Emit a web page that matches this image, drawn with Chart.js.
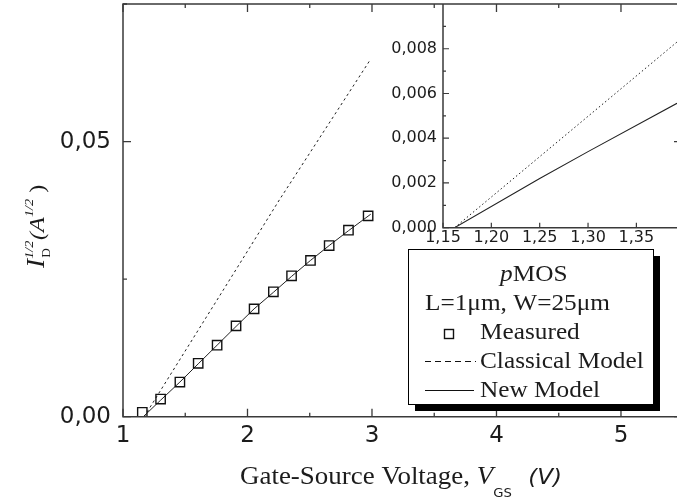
<!DOCTYPE html>
<html>
<head>
<meta charset="utf-8">
<script src="https://cdn.jsdelivr.net/npm/chart.js@4.4.1/dist/chart.umd.min.js"></script>
<style>
  html, body { margin: 0; padding: 0; background: #fff; overflow: hidden; }
  #wrap { position: relative; width: 677px; height: 500px; }
  #wrap canvas { position: absolute; left: 0; top: 0; }
</style>
</head>
<body>
<div id="wrap">
  <canvas id="mainChart" width="677" height="500"></canvas>
  <canvas id="insetChart" width="677" height="500"></canvas>
</div>
<script>
// measured points, main plot
var xMeasured = [1.155, 1.302, 1.457, 1.604, 1.756, 1.908, 2.053, 2.208, 2.354, 2.506, 2.656, 2.811, 2.969];
var yMeasured = [0.0008, 0.0032, 0.0063, 0.0097, 0.0130, 0.0165, 0.0196, 0.0227, 0.0256, 0.0284, 0.0311, 0.0339, 0.0365];

// model curves, main plot
var xNew = [1.163, 1.302, 1.457, 1.604, 1.756, 1.908, 2.053, 2.208, 2.354, 2.506, 2.656, 2.811, 2.99];
var yNew = [0, 0.0030, 0.0063, 0.0096, 0.0130, 0.0164, 0.0196, 0.0226, 0.0255, 0.0284, 0.0311, 0.0338, 0.0368];
var xClassical = [1.17, 1.86, 2.256, 2.99];
var yClassical = [0, 0.025, 0.0394, 0.065];

// inset curves
var xInsetNew = [1.162, 1.25, 1.30, 1.392];
var yInsetNew = [0, 0.0022, 0.0034, 0.00556];
var xInsetClassical = [1.162, 1.392];
var yInsetClassical = [0, 0.0083];

// ticks
var mainXTicks = [1, 2, 3, 4, 5];
var mainXMinor = [1.5, 2.5, 3.5, 4.5];
var mainYTicks = [0, 0.05];
var mainYMinor = [0.025, 0.075];
var insetXTicks = [1.15, 1.20, 1.25, 1.30, 1.35];
var insetYTicks = [0, 0.002, 0.004, 0.006, 0.008];
var insetYMinor = [0.001, 0.003, 0.005, 0.007, 0.009];

var legendTitle = 'MOS';
var legendSize = 'L=1\u03bcm, W=25\u03bcm';
var seriesNames = ['Measured', 'Classical Model', 'New Model'];

function pts(xs, ys) {
  return xs.map(function (x, i) { return { x: x, y: ys[i] }; });
}

var INK = '#1c1c1c';
var SX = 1.1; // the original text is a bit stretched sideways

// draw runs of text, each {t, f, dy}
function drawRuns(ctx, x, y, runs, angle) {
  ctx.save();
  ctx.translate(x, y);
  if (angle) ctx.rotate(angle);
  ctx.scale(SX, 1);
  ctx.textBaseline = 'alphabetic';
  ctx.textAlign = 'left';
  var cx = 0;
  runs.forEach(function (r) {
    ctx.font = r.f;
    ctx.fillText(r.t, cx + (r.dx || 0), r.dy || 0);
    if (!r.noAdvance) cx += ctx.measureText(r.t).width + (r.dx || 0);
  });
  ctx.restore();
}

var mainDecor = {
  id: 'mainDecor',
  afterDatasetsDraw: function (chart) {
    var ctx = chart.ctx, a = chart.chartArea;
    var x = chart.scales.x, y = chart.scales.y;
    ctx.save();
    ctx.strokeStyle = '#3a3a3a';
    ctx.lineWidth = 1.5;
    ctx.beginPath();
    ctx.moveTo(a.right, a.top); ctx.lineTo(a.left, a.top);
    ctx.lineTo(a.left, a.bottom); ctx.lineTo(a.right, a.bottom);
    ctx.stroke();
    ctx.lineWidth = 1.3;
    ctx.beginPath();
    mainXTicks.forEach(function (v) {
      var px = x.getPixelForValue(v);
      ctx.moveTo(px, a.bottom); ctx.lineTo(px, a.bottom - 8);
      ctx.moveTo(px, a.top); ctx.lineTo(px, a.top + 8);
    });
    mainXMinor.forEach(function (v) {
      var px = x.getPixelForValue(v);
      ctx.moveTo(px, a.bottom); ctx.lineTo(px, a.bottom - 4);
      ctx.moveTo(px, a.top); ctx.lineTo(px, a.top + 4);
    });
    mainYTicks.forEach(function (v) {
      var py = y.getPixelForValue(v);
      ctx.moveTo(a.left, py); ctx.lineTo(a.left + 8, py);
      ctx.moveTo(a.right, py); ctx.lineTo(a.right - 3, py);
    });
    mainYMinor.forEach(function (v) {
      var py = y.getPixelForValue(v);
      ctx.moveTo(a.left, py); ctx.lineTo(a.left + 4, py);
    });
    ctx.stroke();

    ctx.fillStyle = INK;
    // x title
    drawRuns(ctx, 240, 484, [
      { t: 'Gate-Source Voltage, ', f: '24.5px "Liberation Serif"' },
      { t: 'V', f: 'italic 24.5px "Liberation Serif"' },
      { t: 'GS', f: '12px "DejaVu Sans"', dy: 13, dx: 0 },
      { t: '(V)', f: 'italic 21px "DejaVu Sans"', dx: 15 }
    ]);
    // y title, rotated
    drawRuns(ctx, 44, 268, [
      { t: 'I', f: 'italic 25px "Liberation Serif"' },
      { t: '1/2', f: 'italic 13px "Liberation Serif"', dy: -11, noAdvance: true },
      { t: 'D', f: '12px "Liberation Serif"', dy: 6, dx: 1 },
      { t: ' (A', f: 'italic 22px "Liberation Serif"', dx: 2 },
      { t: '1/2', f: 'italic 13px "Liberation Serif"', dy: -11 },
      { t: ' )', f: '22px "Liberation Serif"' }
    ], -Math.PI / 2);

    // legend box with shadow
    ctx.fillStyle = '#000';
    ctx.fillRect(415, 256, 245, 155);
    ctx.fillStyle = '#fff';
    ctx.fillRect(408, 249, 245, 155);
    ctx.strokeStyle = '#000';
    ctx.lineWidth = 1;
    ctx.strokeRect(408.5, 249.5, 245, 155);

    ctx.fillStyle = INK;
    drawRuns(ctx, 500, 281, [
      { t: 'p', f: 'italic 23px "Liberation Serif"' },
      { t: legendTitle, f: '23px "Liberation Serif"' }
    ]);
    drawRuns(ctx, 425, 310, [{ t: legendSize, f: '23px "Liberation Serif"' }]);
    drawRuns(ctx, 480, 339, [{ t: seriesNames[0], f: '23px "Liberation Serif"' }]);
    drawRuns(ctx, 480, 368, [{ t: seriesNames[1], f: '23px "Liberation Serif"' }]);
    drawRuns(ctx, 480, 397, [{ t: seriesNames[2], f: '23px "Liberation Serif"' }]);

    ctx.strokeStyle = '#111';
    ctx.lineWidth = 1.4;
    ctx.strokeRect(444.5, 329.5, 9, 9);
    ctx.lineWidth = 1;
    ctx.setLineDash([6, 4]);
    ctx.beginPath(); ctx.moveTo(425, 361.5); ctx.lineTo(476, 361.5); ctx.stroke();
    ctx.setLineDash([]);
    ctx.beginPath(); ctx.moveTo(425, 390.5); ctx.lineTo(474, 390.5); ctx.stroke();
    ctx.restore();
  }
};

var insetDecor = {
  id: 'insetDecor',
  afterDatasetsDraw: function (chart) {
    var ctx = chart.ctx, a = chart.chartArea;
    var x = chart.scales.x, y = chart.scales.y;
    ctx.save();
    ctx.strokeStyle = '#3a3a3a';
    ctx.lineWidth = 1.5;
    ctx.beginPath();
    ctx.moveTo(a.left, a.top); ctx.lineTo(a.left, a.bottom); ctx.lineTo(a.right, a.bottom);
    ctx.stroke();
    ctx.lineWidth = 1.2;
    ctx.beginPath();
    insetYTicks.forEach(function (v) {
      var py = y.getPixelForValue(v);
      ctx.moveTo(a.left, py); ctx.lineTo(a.left + 6, py);
    });
    insetYMinor.forEach(function (v) {
      var py = y.getPixelForValue(v);
      ctx.moveTo(a.left, py); ctx.lineTo(a.left + 3, py);
    });
    insetXTicks.forEach(function (v) {
      var px = x.getPixelForValue(v);
      ctx.moveTo(px, a.bottom); ctx.lineTo(px, a.bottom - 5);
    });
    ctx.stroke();
    ctx.restore();
  }
};

function fixedTicks(list) {
  return function (scale) {
    scale.ticks = list.map(function (v) { return { value: v }; });
  };
}
// fixed axis sizes, and no extra room for edge labels
function fitX(h) {
  return function (s) { s.height = h; s.paddingLeft = 0; s.paddingRight = 0; };
}
function fitY(w) {
  return function (s) { s.width = w; s.paddingTop = 0; s.paddingBottom = 0; };
}

new Chart(document.getElementById('mainChart'), {
  type: 'scatter',
  data: {
    datasets: [
      {
        label: seriesNames[0],
        data: pts(xMeasured, yMeasured),
        pointStyle: 'rect',
        pointRadius: 6.6,
        borderColor: '#111',
        borderWidth: 1.4,
        backgroundColor: 'rgba(0,0,0,0)',
        showLine: false
      },
      {
        label: seriesNames[1],
        data: pts(xClassical, yClassical),
        showLine: true,
        pointRadius: 0,
        borderColor: '#222',
        borderWidth: 1,
        borderDash: [2.5, 3]
      },
      {
        label: seriesNames[2],
        data: pts(xNew, yNew),
        showLine: true,
        pointRadius: 0,
        borderColor: '#222',
        borderWidth: 1
      }
    ]
  },
  options: {
    responsive: false,
    animation: false,
    events: [],
    layout: { autoPadding: false, padding: { left: 0, right: 0, top: 4, bottom: 0 } },
    plugins: { legend: { display: false }, tooltip: { enabled: false } },
    scales: {
      x: {
        type: 'linear', min: 1, max: 5.45,
        afterBuildTicks: fixedTicks(mainXTicks),
        afterFit: fitX(83.3),
        grid: { display: false, drawTicks: false },
        border: { display: false },
        ticks: {
          autoSkip: false, maxRotation: 0, padding: 6, color: INK,
          font: { family: '"DejaVu Sans"', size: 23 },
          callback: function (v) { return String(v); }
        }
      },
      y: {
        type: 'linear', min: 0, max: 0.075,
        afterBuildTicks: fixedTicks(mainYTicks),
        afterFit: fitY(123),
        grid: { display: false, drawTicks: false },
        border: { display: false },
        ticks: {
          autoSkip: false, padding: 12, color: INK,
          font: { family: '"DejaVu Sans"', size: 23 },
          callback: function (v) { return v.toFixed(2).replace('.', ','); }
        }
      }
    }
  },
  plugins: [mainDecor]
});

new Chart(document.getElementById('insetChart'), {
  type: 'scatter',
  data: {
    datasets: [
      {
        label: seriesNames[1],
        data: pts(xInsetClassical, yInsetClassical),
        showLine: true,
        pointRadius: 0,
        borderColor: '#222',
        borderWidth: 1,
        borderDash: [1.5, 2.5]
      },
      {
        label: seriesNames[2],
        data: pts(xInsetNew, yInsetNew),
        showLine: true,
        pointRadius: 0,
        borderColor: '#222',
        borderWidth: 1.1
      }
    ]
  },
  options: {
    responsive: false,
    animation: false,
    events: [],
    layout: { autoPadding: false, padding: { left: 0, right: 0, top: 4, bottom: 242.3 } },
    plugins: { legend: { display: false }, tooltip: { enabled: false } },
    scales: {
      x: {
        type: 'linear', min: 1.15, max: 1.392,
        afterBuildTicks: fixedTicks(insetXTicks),
        afterFit: fitX(30),
        grid: { display: false, drawTicks: false },
        border: { display: false },
        ticks: {
          autoSkip: false, maxRotation: 0, padding: 1, color: INK,
          font: { family: '"DejaVu Sans"', size: 16 },
          callback: function (v) { return v.toFixed(2).replace('.', ','); }
        }
      },
      y: {
        type: 'linear', min: 0, max: 0.01,
        afterBuildTicks: fixedTicks(insetYTicks),
        afterFit: fitY(443),
        grid: { display: false, drawTicks: false },
        border: { display: false },
        ticks: {
          autoSkip: false, padding: 6, color: INK,
          font: { family: '"DejaVu Sans"', size: 16 },
          callback: function (v) { return v.toFixed(3).replace('.', ','); }
        }
      }
    }
  },
  plugins: [insetDecor]
});
</script>
</body>
</html>
